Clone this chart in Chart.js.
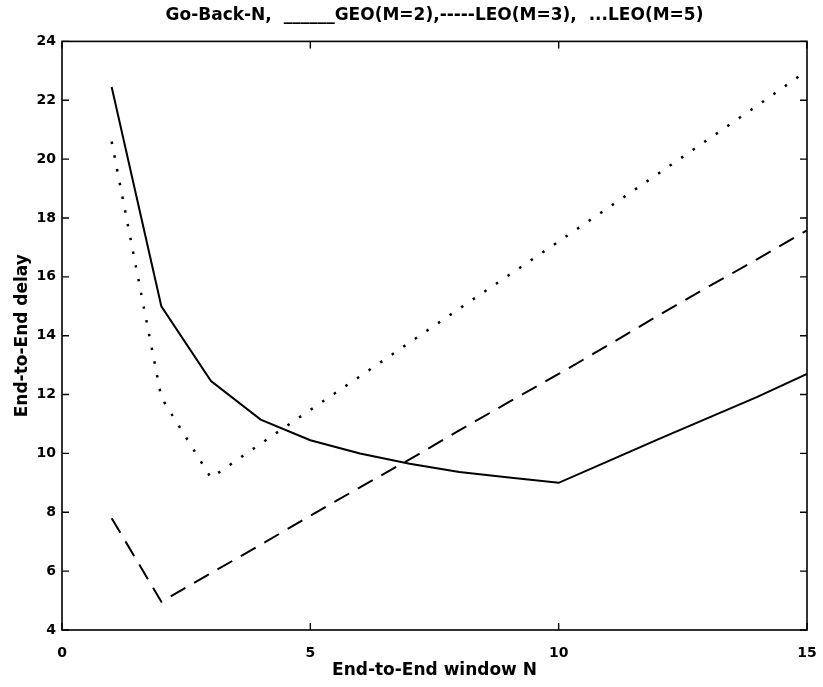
<!DOCTYPE html>
<html><head><meta charset="utf-8">
<script src="https://cdn.jsdelivr.net/npm/chart.js@4/dist/chart.umd.min.js"></script>
<style>html,body{margin:0;padding:0;background:#fff;overflow:hidden}</style>
</head><body>
<canvas id="c" width="823" height="687" style="display:block;width:823px;height:687px"></canvas>
<script>
// categories: end-to-end window N
const windowN = [1, 2, 3, 4, 5, 6, 7, 8, 9, 10, 11, 12, 13, 14, 15];
// series values
const geoM2 = [22.45, 15.0, 12.46, 11.15, 10.45, 10.0, 9.65, 9.37, 9.18, 9.0, 9.74, 10.48, 11.2, 11.92, 12.7];
const leoM3 = [7.8, 4.96, 5.93, 6.9, 7.88, 8.85, 9.8, 10.78, 11.75, 12.7, 13.68, 14.68, 15.65, 16.6, 17.58];
const leoM5 = [20.6, 11.9, 9.17, 10.33, 11.48, 12.62, 13.77, 14.92, 16.06, 17.2, 18.35, 19.5, 20.66, 21.82, 23.0];
// tick labels
const xTicks = [0, 5, 10, 15];
const yTicks = [4, 6, 8, 10, 12, 14, 16, 18, 20, 22, 24];
const titleText = 'Go-Back-N,  ______GEO(M=2),-----LEO(M=3),  ...LEO(M=5)';
const xTitle = 'End-to-End window N';
const yTitle = 'End-to-End delay';

const FONT = '"DejaVu Sans", sans-serif';
const toXY = (ys) => windowN.map((n, i) => ({x: n, y: ys[i]}));

const boxPlugin = {
  id: 'boxTicks',
  afterDatasetsDraw(chart) {
    const {ctx, chartArea: {left, right, top, bottom}, scales: {x, y}} = chart;
    ctx.save();
    ctx.strokeStyle = '#000';
    ctx.lineWidth = 1.6;
    ctx.strokeRect(left, top, right - left, bottom - top);
    ctx.lineWidth = 1.4;
    ctx.beginPath();
    xTicks.forEach(v => {
      const px = x.getPixelForValue(v);
      ctx.moveTo(px, bottom); ctx.lineTo(px, bottom - 7);
      ctx.moveTo(px, top); ctx.lineTo(px, top + 7);
    });
    yTicks.forEach(v => {
      const py = y.getPixelForValue(v);
      ctx.moveTo(left, py); ctx.lineTo(left + 7, py);
      ctx.moveTo(right, py); ctx.lineTo(right - 7, py);
    });
    ctx.stroke();
    ctx.restore();
  }
};

new Chart(document.getElementById('c'), {
  type: 'line',
  data: {
    datasets: [
      {label: 'GEO(M=2)', data: toXY(geoM2), borderColor: '#000', borderWidth: 2, pointRadius: 0, tension: 0, fill: false},
      {label: 'LEO(M=3)', data: toXY(leoM3), borderColor: '#000', borderWidth: 2, borderDash: [17, 10], pointRadius: 0, tension: 0, fill: false},
      {label: 'LEO(M=5)', data: toXY(leoM5), borderColor: '#000', borderWidth: 2.5, borderDash: [2.5, 11.5], pointRadius: 0, tension: 0, fill: false}
    ]
  },
  options: {
    responsive: false,
    animation: false,
    devicePixelRatio: 1,
    layout: {padding: {left: 0, right: 16, top: 0, bottom: 0}},
    plugins: {
      legend: {display: false},
      tooltip: {enabled: false},
      title: {
        display: true, text: titleText, color: '#000', fullSize: false,
        font: {family: FONT, size: 17, weight: 'bold'},
        padding: {top: 5, bottom: 16}
      }
    },
    scales: {
      x: {
        type: 'linear', min: 0, max: 15,
        afterBuildTicks: (s) => { s.ticks = xTicks.map(v => ({value: v})); },
        afterFit: (s) => { s.height = 57; s.paddingLeft = 0; s.paddingRight = 0; },
        grid: {display: false, drawTicks: false},
        border: {display: false},
        ticks: {color: '#000', padding: 15, font: {family: FONT, size: 14, weight: 'bold'}, maxRotation: 0},
        title: {display: true, text: xTitle, color: '#000', font: {family: FONT, size: 17, weight: 'bold'}, padding: {top: 0, bottom: 6}}
      },
      y: {
        type: 'linear', min: 4, max: 24,
        afterBuildTicks: (s) => { s.ticks = yTicks.map(v => ({value: v})); },
        afterFit: (s) => { s.width = 62; s.paddingTop = 0; s.paddingBottom = 0; },
        grid: {display: false, drawTicks: false},
        border: {display: false},
        ticks: {color: '#000', padding: 6, font: {family: FONT, size: 14, weight: 'bold'}},
        title: {display: true, text: yTitle, color: '#000', font: {family: FONT, size: 17, weight: 'bold'}, padding: {top: 12, bottom: 0}}
      }
    }
  },
  plugins: [boxPlugin]
});
</script>
</body></html>
